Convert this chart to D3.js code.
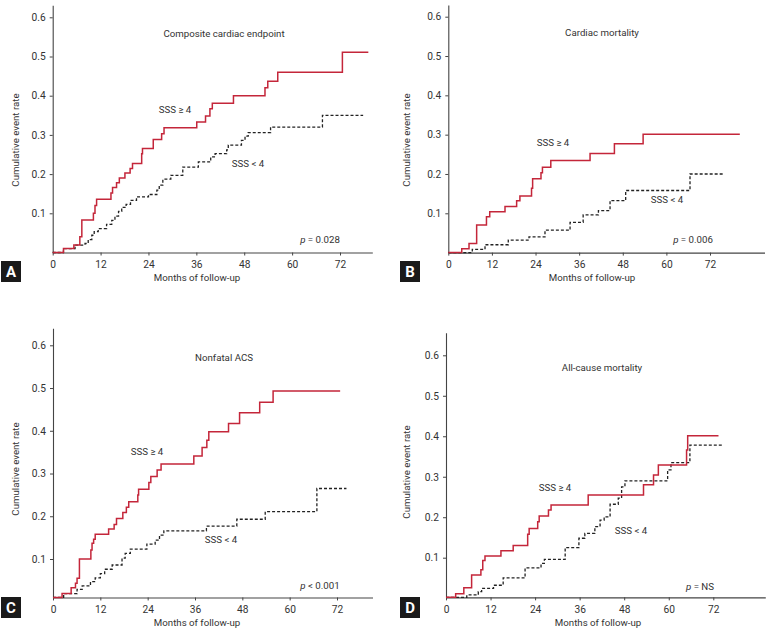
<!DOCTYPE html>
<html><head><meta charset="utf-8">
<script src="https://cdn.jsdelivr.net/npm/d3@7"></script>
<style>body{margin:0;background:#fff}svg{display:block}text{font-family:Roboto,"Noto Sans",sans-serif;fill:#333}</style>
</head><body>
<svg id="c" width="770" height="633"></svg>
<script>
// ---------- data ----------
const panelLetters = ["A", "B", "C", "D"];
const panelTitles = ["Composite cardiac endpoint", "Cardiac mortality", "Nonfatal ACS", "All-cause mortality"];
const pValues = ["= 0.028", "= 0.006", "< 0.001", "= NS"];
const groupLabels = ["SSS \u2265 4", "SSS < 4"];
const xTicks = [0, 12, 24, 36, 48, 60, 72];
const yTicks = [0.1, 0.2, 0.3, 0.4, 0.5, 0.6];
const xLabel = "Months of follow-up";
const yLabel = "Cumulative event rate";

// [month, cumulative event rate]  SSS >= 4
const aHigh = [[0,0],[2.7,0.01],[5.3,0.019],[6.8,0.04],[7.3,0.083],[10.2,0.10],[10.6,0.12],[11.0,0.136],[14.6,0.152],[15.0,0.166],[16.0,0.178],[16.7,0.19],[18.1,0.203],[19.4,0.214],[20.0,0.227],[22.3,0.252],[22.5,0.265],[25.2,0.288],[27.3,0.303],[27.9,0.318],[36.1,0.333],[38.3,0.348],[39.4,0.367],[40.0,0.381],[45.3,0.40],[53.2,0.42],[53.9,0.437],[56.4,0.46],[72.6,0.511],[79.1,0.511]];
// SSS < 4
const aLow = [[0,0],[2.7,0.01],[5.6,0.019],[8.1,0.023],[8.9,0.033],[9.8,0.044],[10.4,0.053],[11.4,0.061],[13.5,0.072],[14.8,0.082],[15.6,0.093],[16.5,0.105],[17.3,0.115],[18.4,0.123],[19.5,0.133],[21.0,0.142],[24.0,0.148],[26.1,0.159],[26.7,0.172],[27.6,0.187],[29.6,0.197],[32.6,0.218],[36.5,0.231],[39.6,0.244],[40.7,0.252],[43.6,0.262],[44.0,0.274],[47.3,0.286],[48.2,0.297],[49.0,0.306],[54.6,0.32],[67.6,0.35],[77.8,0.35]];

const bHigh = [[0,0],[3.7,0.01],[5.7,0.023],[7.8,0.07],[10.5,0.091],[11.4,0.104],[15.6,0.117],[18.8,0.132],[19.7,0.144],[22.9,0.164],[23.2,0.188],[25.5,0.203],[25.9,0.217],[28.2,0.234],[39.0,0.252],[45.7,0.277],[53.6,0.301],[80.2,0.301]];
const bLow = [[0,0],[6.6,0.008],[10.1,0.02],[16.5,0.032],[22.2,0.04],[26.6,0.057],[33.5,0.077],[37.1,0.096],[41.3,0.107],[44.5,0.132],[48.8,0.158],[66.5,0.2],[75.7,0.2]];

const cHigh = [[0,0.01],[2.3,0.019],[4.6,0.033],[5.7,0.043],[6.1,0.055],[6.7,0.1],[9.6,0.121],[9.9,0.137],[10.3,0.146],[10.7,0.158],[14.1,0.17],[15.5,0.181],[16.1,0.195],[17.7,0.209],[18.6,0.221],[19.2,0.234],[21.5,0.25],[21.7,0.263],[24.3,0.279],[24.8,0.293],[26.4,0.308],[27.4,0.322],[35.7,0.341],[37.8,0.361],[39.0,0.378],[39.5,0.398],[44.5,0.417],[47.3,0.442],[52.4,0.467],[55.8,0.493],[72.8,0.493]];
const cLow = [[0,0.01],[2.7,0.019],[6.1,0.029],[7.4,0.037],[9.5,0.047],[10.7,0.056],[12.0,0.066],[13.1,0.076],[15.0,0.086],[17.5,0.102],[18.3,0.113],[19.6,0.123],[23.8,0.135],[25.9,0.144],[27.0,0.156],[28.1,0.166],[38.9,0.177],[46.6,0.193],[53.8,0.211],[66.9,0.265],[74.4,0.265]];

const dHigh = [[0,0.002],[2.6,0.011],[4.8,0.026],[6.9,0.057],[9.4,0.07],[9.9,0.093],[10.5,0.104],[14.8,0.117],[18.1,0.13],[22.0,0.158],[22.4,0.172],[24.7,0.189],[25.1,0.203],[27.6,0.218],[28.3,0.23],[38.3,0.255],[53.2,0.28],[55.9,0.304],[57.2,0.329],[64.8,0.366],[65.1,0.401],[73.4,0.401]];
const dLow = [[0,0.002],[5.6,0.008],[8.7,0.016],[9.6,0.024],[12.8,0.032],[15.4,0.05],[21.3,0.075],[25.6,0.086],[26.5,0.096],[32.1,0.125],[35.8,0.148],[37.4,0.16],[40.1,0.177],[41.5,0.193],[42.6,0.201],[44.2,0.232],[46.4,0.247],[47.3,0.275],[48.2,0.29],[59.7,0.317],[60.6,0.335],[65.7,0.378],[74.3,0.378]];

const highSeries = [aHigh, bHigh, cHigh, dHigh];
const lowSeries = [aLow, bLow, cLow, dLow];

// ---------- layout ----------
const layout = [
  {px0:52.7, px72:340, xEnd:80.1, py01:213.3, py06:17.3, yLo:0, yHi:0.631,
   title:[224,37], hi:[175,113], lo:[248,167], p:[320,243], box:[1,261], xl:[197,281], yl:[16,140]},
  {px0:448.3, px72:710, xEnd:87, py01:213.3, py06:16.7, yLo:0, yHi:0.63,
   title:[602,36], hi:[553,146], lo:[667,203], p:[693,243], box:[400,261], xl:[592,281], yl:[407,140]},
  {px0:53, px72:337, xEnd:81, py01:559, py06:345.3, yLo:0.01, yHi:0.64,
   title:[224,361], hi:[147,455], lo:[221,543], p:[320,589], box:[1,597], xl:[197,626], yl:[16,469]},
  {px0:446, px72:713.3, xEnd:86, py01:557.7, py06:355.3, yLo:0.002, yHi:0.656,
   title:[602,371], hi:[555,491], lo:[631,534], p:[700,590], box:[400,597], xl:[598,626], yl:[407,472]}
];

const svg = d3.select("#c");
const red = "#c4263a";
const fs = 9.7;

layout.forEach((L, i) => {
  const pxEnd = L.px0 + (L.px72 - L.px0) * L.xEnd / 72;
  const x = d3.scaleLinear().domain([0, L.xEnd]).range([L.px0, pxEnd]);
  const per = (L.py01 - L.py06) / 0.5;
  const yLoPx = L.py01 + (0.1 - L.yLo) * per;
  const yHiPx = L.py01 - (L.yHi - 0.1) * per;
  const y = d3.scaleLinear().domain([L.yLo, L.yHi]).range([yLoPx, yHiPx]).clamp(true);
  const g = svg.append("g");

  const xa = g.append("g").attr("transform", `translate(0,${yLoPx})`)
    .call(d3.axisBottom(x).tickValues(xTicks).tickSize(3).tickSizeOuter(0).tickFormat(d3.format("d")));
  const ya = g.append("g").attr("transform", `translate(${L.px0},0)`)
    .call(d3.axisLeft(y).tickValues(yTicks).tickSize(3).tickSizeOuter(0).tickFormat(d3.format(".1f")));
  [xa, ya].forEach(a => {
    a.select(".domain").attr("stroke", "#444").attr("stroke-width", 1.1);
    a.selectAll(".tick line").attr("stroke", "#444");
    a.selectAll(".tick text").attr("font-size", 10.2).attr("fill", "#333")
      .style("font-family", "Roboto, sans-serif");
  });
  xa.selectAll(".tick text").attr("dy", "0.9em");
  ya.selectAll(".tick text").attr("dx", "-0.1em");

  const line = d3.line().x(d => x(d[0])).y(d => y(d[1])).curve(d3.curveStepAfter);
  g.append("path").datum(lowSeries[i]).attr("d", line).attr("fill", "none")
    .attr("stroke", "#222").attr("stroke-width", 1.3).attr("stroke-dasharray", "3,2");
  g.append("path").datum(highSeries[i]).attr("d", line).attr("fill", "none")
    .attr("stroke", red).attr("stroke-width", 1.5);

  const txt = (pos, s) => g.append("text").attr("x", pos[0]).attr("y", pos[1])
    .attr("text-anchor", "middle").attr("font-size", fs).text(s);
  txt(L.title, panelTitles[i]);
  txt(L.hi, groupLabels[0]);
  txt(L.lo, groupLabels[1]);
  const pt = g.append("text").attr("x", L.p[0]).attr("y", L.p[1]).attr("text-anchor", "middle")
    .attr("font-size", fs);
  pt.append("tspan").attr("font-style", "italic").text("p");
  pt.append("tspan").text(" " + pValues[i]);
  txt(L.xl, xLabel);
  g.append("text").attr("transform", `translate(${L.yl[0]},${L.yl[1]}) rotate(-90)`)
    .attr("text-anchor", "middle").attr("dy", "0.35em").attr("font-size", fs).text(yLabel);

  g.append("rect").attr("x", L.box[0]).attr("y", L.box[1]).attr("width", 20).attr("height", 21)
    .attr("fill", "#1a1a1a");
  g.append("text").attr("x", L.box[0] + 10).attr("y", L.box[1] + 16).attr("text-anchor", "middle")
    .attr("font-size", 15).attr("font-weight", "bold").style("fill", "#fff").text(panelLetters[i]);
});
</script>
</body></html>
